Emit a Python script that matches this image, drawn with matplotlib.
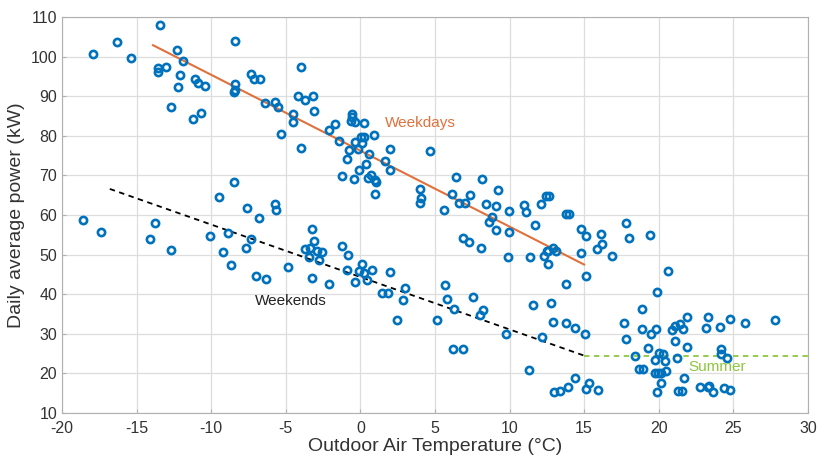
import numpy as np
import matplotlib
matplotlib.use("Agg")
import matplotlib.pyplot as plt

plt.rcParams['font.family'] = ['Liberation Sans', 'DejaVu Sans']
plt.rcParams['axes.unicode_minus'] = False

# weekday points (upper cloud)
weekday_t = [-17.9, -16.3, -15.4, -13.4, -13.6, -13.6, -13.0, -12.3, -11.9, -12.1, -12.2, -12.7,
             -11.1, -10.9, -10.4, -11.2, -10.7, -8.4, -8.4, -8.5, -8.4, -7.3, -7.1, -6.7, -6.4,
             -5.7, -5.5, -5.3, -4.5, -4.5, -4.0, -4.2, -3.7, -3.2, -3.1, -4.0,
             -2.1, -1.7, -1.4, -0.54, -0.54, -0.65, -0.38, 0.22, -0.9, -0.76, -0.36, -0.14, 0.06,
             0.22, 0.11, 0.91, 0.55, 0.39, -0.07, -0.43, -1.2, 0.49, 0.71, 1.0, 1.04, 0.96, 1.63,
             1.98, 1.98, 4.68, 3.97, 4.06, 4.0, 5.58, 6.38, 6.12, 6.63, 7.01, 7.37, 8.17, 8.42,
             9.22, 9.11, 8.8, 8.64, 9.11, 9.94, 9.98, 11.0, 11.1, 12.1, 12.46, 12.66, 11.7, 12.3,
             12.6, 12.5, 12.9, 13.1, 12.55, 6.86, 7.28, 8.1, 9.9, 11.4, 13.8, 13.99, 14.76, 15.1,
             16.1, 16.2, 15.86, 16.9, 14.76, 15.1, 13.8, 17.8, 18.0, 19.4]
weekday_p = [100.7, 103.7, 99.6, 108.0, 97.2, 96.2, 97.3, 101.7, 99.0, 95.5, 92.4, 87.3,
             94.4, 93.3, 92.7, 84.2, 85.9, 103.9, 93.1, 91.0, 91.6, 95.7, 94.3, 94.3, 88.2,
             88.5, 87.3, 80.5, 85.4, 83.5, 97.4, 90.1, 89.0, 90.0, 86.4, 77.0,
             81.4, 83.1, 78.7, 85.4, 84.8, 83.8, 83.4, 83.3, 74.2, 76.4, 78.4, 76.7, 79.6,
             79.6, 78.3, 80.1, 75.4, 72.9, 71.5, 69.2, 69.9, 69.3, 70.1, 68.8, 68.3, 65.2, 73.6,
             76.8, 71.5, 76.2, 66.6, 64.4, 63.1, 61.4, 69.6, 65.4, 63.0, 63.0, 65.1, 69.1, 62.9,
             66.3, 62.4, 59.5, 58.3, 56.2, 61.1, 55.7, 62.5, 60.8, 62.9, 64.7, 64.9, 57.5, 49.6,
             47.7, 50.9, 51.6, 50.9, 51.0, 54.1, 53.2, 51.7, 49.4, 49.4, 60.3, 60.3, 56.4, 54.7,
             55.1, 52.8, 51.4, 49.7, 50.3, 44.5, 42.5, 58.0, 54.2, 55.0]

# weekend points (lower cloud)
weekend_t = [-18.6, -17.4, -13.8, -14.1, -12.7, -10.1, -9.5, -8.5, -8.9, -9.2, -8.7, -7.6, -6.78,
             -7.3, -7.7, -5.7, -5.66, -6.98, -6.3, -4.85, -3.27, -3.1, -3.73, -3.38, -3.47, -2.93,
             -2.6, -3.27, -2.8, -2.1, -1.25, -0.85, -0.92, -0.34, 0.09, -0.12, 0.22, 0.42, 0.76,
             1.98, 1.43, 1.83, 3.0, 5.67, 7.55, 2.88, 2.43, 5.8, 6.25, 5.13, 8.2, 8.0, 6.19, 6.9,
             9.76, 11.57, 12.8, 12.93, 13.76, 14.38, 15.07, 12.2, 11.3, 13.0, 13.38, 13.93, 14.4,
             15.3, 15.16, 15.9]
weekend_p = [58.7, 55.6, 58.0, 53.9, 51.3, 54.8, 64.6, 68.3, 55.5, 50.7, 47.5, 61.8, 59.2,
             53.9, 51.7, 62.7, 61.3, 44.5, 43.8, 46.9, 56.5, 53.4, 51.5, 51.6, 49.3, 50.9,
             50.6, 44.2, 48.6, 42.7, 52.3, 49.9, 46.0, 43.2, 47.6, 45.9, 45.4, 43.6, 46.1,
             45.6, 40.4, 40.4, 41.7, 42.3, 39.4, 38.6, 33.6, 38.7, 36.3, 33.5, 36.0, 34.7, 26.2, 26.2,
             29.9, 37.3, 37.8, 33.1, 32.7, 31.6, 29.9, 29.3, 20.9, 15.4, 15.6, 16.7, 18.8,
             17.7, 16.1, 15.8]

# summer points
summer_t = [20.6, 19.88, 17.7, 17.8, 18.87, 18.87, 18.4, 18.7, 18.92, 19.27, 19.5, 19.83, 19.75,
            20.03, 20.26, 20.43, 20.48, 19.72, 19.95, 20.17, 20.17, 19.86, 20.9, 21.1, 21.44, 21.6,
            21.9, 21.1, 21.2, 21.9, 21.7, 21.3, 21.55, 22.8, 23.3, 23.4, 23.65, 24.4, 24.8, 23.3,
            23.2, 24.1, 24.8, 24.2, 24.2, 24.55, 25.8, 27.8]
summer_p = [45.9, 40.6, 32.8, 28.8, 36.3, 31.2, 24.4, 21.0, 21.0, 26.3, 30.0, 31.3, 23.3,
            25.2, 25.0, 23.1, 20.6, 20.0, 20.0, 20.0, 17.7, 15.3, 30.9, 32.0, 32.4, 31.3,
            34.2, 28.3, 24.0, 26.7, 18.9, 15.6, 15.6, 16.6, 16.5, 16.9, 15.2, 16.2, 15.7, 34.2,
            31.5, 31.8, 33.7, 26.2, 25.0, 23.9, 32.7, 33.5]

# fitted lines (endpoints)
weekday_line_t = [-13.9, 15.0]
weekday_line_p = [102.9, 47.5]
weekend_line_t = [-16.8, 15.0]
weekend_line_p = [66.6, 24.5]
summer_line_t = [15.0, 30.0]
summer_line_p = [24.5, 24.5]

fig = plt.figure(figsize=(8.25, 4.62), dpi=100)
ax = fig.add_axes([0.0752, 0.106, 0.904, 0.857])

all_t = weekday_t + weekend_t + summer_t
all_p = weekday_p + weekend_p + summer_p
ax.plot(all_t, all_p, 'o', ls='none', mfc='none', mec='#0072BD', ms=5.2, mew=1.9, zorder=3)

ax.plot(weekday_line_t, weekday_line_p, color='#E0703C', lw=1.5, zorder=2)
ax.plot(weekend_line_t, weekend_line_p, color='black', lw=1.3, ls=(0, (3, 2.5)), zorder=2)
ax.plot(summer_line_t, summer_line_p, color='#8CC63F', lw=1.3, ls=(0, (3, 2.5)), zorder=2)

ax.text(1.65, 83.3, 'Weekdays', color='#E0703C', fontsize=11, va='center', ha='left')
ax.text(-7.06, 38.4, 'Weekends', color='#222222', fontsize=11, va='center', ha='left')
ax.text(22.0, 21.6, 'Summer', color='#8CC63F', fontsize=11, va='center', ha='left')

ax.set_xlim(-20, 30)
ax.set_ylim(10, 110)
ax.set_xticks(np.arange(-20, 31, 5))
ax.set_yticks(np.arange(10, 111, 10))
ax.grid(True, color='#dddddd', lw=0.9)
ax.set_axisbelow(True)
for s in ax.spines.values():
    s.set_color('#b0b0b0')
ax.tick_params(direction='in', length=3, colors='#b0b0b0', labelcolor='#333333', labelsize=11.5)
ax.tick_params(axis='x', pad=6)
ax.set_xlabel('Outdoor Air Temperature (°C)', fontsize=14, color='#333333', labelpad=1)
ax.set_ylabel('Daily average power (kW)', fontsize=14, color='#333333', labelpad=4)

fig.savefig('out.png', dpi=100)
